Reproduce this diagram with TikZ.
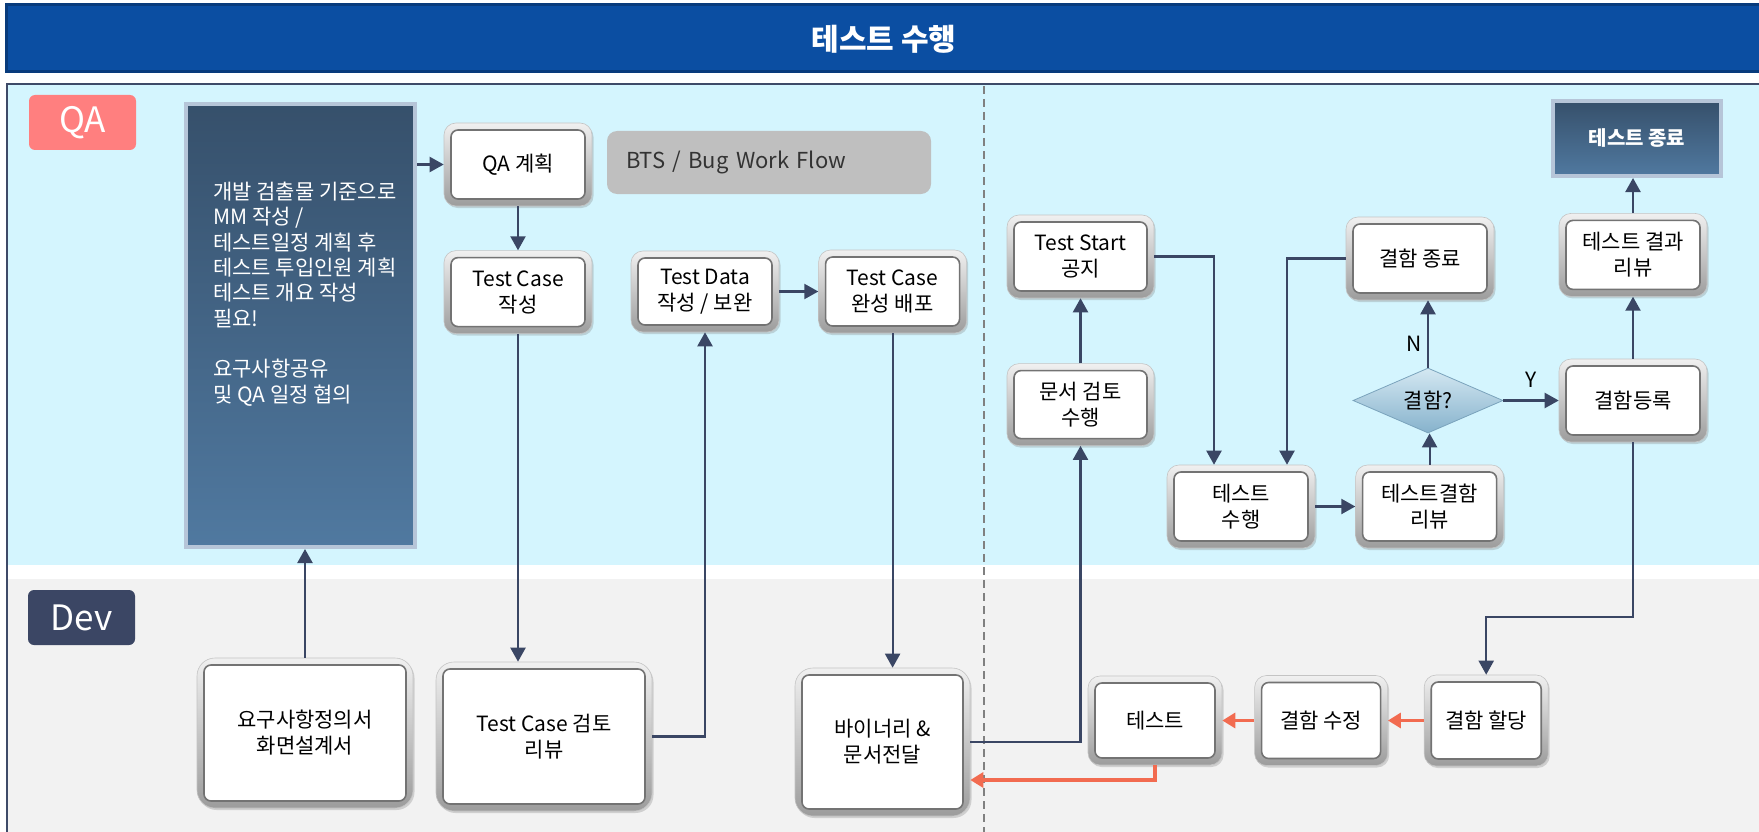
\documentclass[tikz,border=0pt]{standalone}
\usepackage{fontspec}
\setmainfont{Noto Sans CJK KR}
\usepackage{tikz}
\usetikzlibrary{arrows.meta,positioning,shapes.geometric,shadows}
\definecolor{colTitle}     {HTML}{0B4EA2}
\definecolor{colTitleEdge} {HTML}{083B7C}
\definecolor{colQaLane}    {HTML}{D4F5FE}
\definecolor{colDevLane}   {HTML}{F2F2F2}
\definecolor{colFrame}     {HTML}{3E4A68}
\definecolor{colDash}      {HTML}{808080}
\definecolor{colQaTag}     {HTML}{FF7F7F}
\definecolor{colDevTag}    {HTML}{3B4664}
\definecolor{colNavyTop}   {HTML}{36506B}
\definecolor{colNavyBot}   {HTML}{5079A0}
\definecolor{colNavyEdge}  {HTML}{B6C5D8}
\definecolor{colBts}       {HTML}{BFBFBF}
\definecolor{colBtsText}   {HTML}{333333}
\definecolor{colBevelTop}  {HTML}{F0F0F0}
\definecolor{colBevelBot}  {HTML}{9C9C9C}
\definecolor{colBevelEdge} {HTML}{C4C4C4}
\definecolor{colBevelDark} {HTML}{737373}
\definecolor{colDiaTop}    {HTML}{D4E8F2}
\definecolor{colDiaBot}    {HTML}{86B2CC}
\definecolor{colDiaEdge}   {HTML}{7AA3BC}
\definecolor{colArrow}     {HTML}{3A4664}
\definecolor{colFix}       {HTML}{F26B50}
\tikzset{
  bsize/.style 2 args={minimum width=#1, minimum height=#2},
  block/.style={
    top color=colBevelTop, bottom color=colBevelBot,
    draw=colBevelEdge, line width=0.6pt,
    rounded corners=12pt, inner sep=0pt, align=center,
    minimum width=148pt, minimum height=83pt,
    font=\fontsize{21}{26}\selectfont,
    drop shadow={shadow xshift=1.5pt, shadow yshift=-2pt, opacity=.3},
    path picture={
      \draw[colBevelDark, fill=white, line width=1.6pt, rounded corners=7pt]
        ([shift={(7pt,-7pt)}]path picture bounding box.north west) rectangle
        ([shift={(-7pt,7pt)}]path picture bounding box.south east);
    }
  },
  bigblock/.style={block, rounded corners=18pt},
  navybox/.style={
    draw=colNavyEdge, line width=4pt,
    top color=colNavyTop, bottom color=colNavyBot,
    inner sep=0pt, text=white
  },
  tag/.style={
    rounded corners=6pt, inner sep=0pt,
    minimum width=107pt, minimum height=55pt,
    text=white, font=\fontsize{35}{35}\selectfont
  },
  btsbox/.style={
    fill=colBts, rounded corners=10pt, inner sep=0pt,
    minimum width=324pt, minimum height=63pt,
    text width=286pt, align=left, text=colBtsText,
    font=\fontsize{22}{22}\selectfont
  },
  decision/.style={
    diamond, aspect=2.3, inner sep=0pt,
    minimum width=150pt, minimum height=65pt,
    draw=colDiaEdge, line width=0.8pt,
    top color=colDiaTop, bottom color=colDiaBot,
    font=\fontsize{21}{24}\selectfont
  },
  lbl/.style={inner sep=0pt, font=\fontsize{21}{21}\selectfont},
  mainarr/.style={
    -{Triangle[length=14pt,width=15pt]},
    line width=2.2pt, draw=colArrow
  },
  fixarr/.style={
    -{Triangle[length=13pt,width=15pt]},
    line width=3.5pt, draw=colFix
  }
}

\begin{document}
\begin{tikzpicture}[x=1pt, y=-1pt]
  \useasboundingbox (0,0) rectangle (1759,832);
  \fill[colQaLane] (7,84) rectangle (1759,565);
  \fill[colDevLane] (7,579) rectangle (1759,832);
  \draw[colDash, line width=1.2pt, dash pattern=on 8pt off 5pt] (984,86) -- (984,832);
  \draw[colFrame, line width=2.2pt] (1770,84) -- (7,84) -- (7,840);
  \draw[colTitleEdge, line width=3pt, fill=colTitle] (6,5) rectangle (1775,72);
  \node[text=white, font=\bfseries\fontsize{30}{30}\selectfont] (title) at (884,39) {테스트 수행};

  \node[tag, fill=colQaTag] (qa) at (82.5,122.5) {QA};
  \node[tag, fill=colDevTag] (dev) at (81.5,617.5) {Dev};

  \node[navybox, bsize={229pt}{443pt}] (plan) at (300.5,325.5) {};
  \node[anchor=north west, inner sep=0pt, align=left, text=white,
        font=\fontsize{21}{25.3}\selectfont] (plantext) at (213,182)
    {개발 검출물 기준으로\\MM 작성 /\\테스트일정 계획 후\\테스트 투입인원 계획\\테스트 개요 작성\\필요!\\[25.3pt]요구사항공유\\및 QA 일정 협의};

  \node[block] (qaplan) at (518,164.5) {QA 계획};
  \node[block, below=44pt of qaplan] (tcwrite) {Test Case\\작성};
  \node[block, bsize={148pt}{81pt}] (tdata) at (705,291.5) {Test Data\\작성 / 보완};
  \node[block, right=39pt of tdata] (tcdeploy) {Test Case\\완성 배포};
  \node[btsbox] (bts) at (769,162.5) {BTS / Bug Work Flow};

  \node[block, bsize={147pt}{83pt}] (teststart) at (1080.5,256.5) {Test Start\\공지};
  \node[block, bsize={147pt}{82pt}, below=65pt of teststart] (docreview) {문서 검토\\수행};
  \node[block] (defectclose) at (1420,258.5) {결함 종료};
  \node[decision] (chk) at (1428,400.5) {결함?};
  \node[block] (register) at (1633,400.5) {결함등록};
  \node[block, above=62pt of register] (resultreview) {테스트 결과\\리뷰};
  \node[navybox, bsize={168pt}{75pt}, font=\bfseries\fontsize{20}{24}\selectfont] (testend) at (1637,138.5) {테스트 종료};
  \node[block] (testrun) at (1241,506.5) {테스트\\수행};
  \node[block, right=40pt of testrun] (defectreview) {테스트결함\\리뷰};

  \node[bigblock, bsize={216pt}{150pt}] (req) at (305,733) {요구사항정의서\\화면설계서};
  \node[bigblock, bsize={216pt}{149pt}] (tcreview) at (544,736.5) {Test Case 검토\\리뷰};
  \node[bigblock, bsize={175pt}{148pt}] (binary) at (882.5,742) {바이너리 \&\\문서전달};
  \node[block, bsize={134pt}{89pt}] (devtest) at (1155,720.5) {테스트};
  \node[block, bsize={133pt}{90pt}, right=32pt of devtest] (fix) {결함 수정};
  \node[block, bsize={124pt}{91pt}, right=36pt of fix] (assign) {결함 할당};

  \coordinate (asgbend) at (1633,617);
  \draw[mainarr] (plan.east |- qaplan) -- (qaplan.west);
  \draw[mainarr] (qaplan) -- (tcwrite);
  \draw[mainarr] (tcwrite.south) -- (tcwrite.south |- tcreview.north);
  \draw[mainarr] (tcreview.east) -| (tdata.south);
  \draw[mainarr] (tdata) -- (tcdeploy);
  \draw[mainarr] (tcdeploy.south) -- (tcdeploy.south |- binary.north);
  \draw[mainarr] (req.north) -- (req.north |- plan.south);
  \draw[mainarr] (binary.east) -| (docreview.south);
  \draw[mainarr] (docreview) -- (teststart);
  \draw[mainarr] (teststart.east) -| ([xshift=-27pt]testrun.north);
  \draw[mainarr] (defectclose.west) -| ([xshift=46pt]testrun.north);
  \draw[mainarr] (testrun) -- (defectreview);
  \draw[mainarr] (defectreview.north) -- (defectreview.north |- chk.south);
  \draw[mainarr] (chk.north) -- node[lbl, left=5pt, pos=.35] {N} (chk.north |- defectclose.south);
  \draw[mainarr] (chk) -- node[lbl, above=12pt] {Y} (register);
  \draw[mainarr] (register) -- (resultreview);
  \draw[mainarr] (resultreview.north) -- (resultreview.north |- testend.south);
  \draw[mainarr] (register.south) -- (register.south |- asgbend) -| (assign.north);
  \draw[fixarr] (assign.west) -- (assign.west -| fix.east);
  \draw[fixarr] (fix.west) -- (fix.west -| devtest.east);
  \draw[fixarr] (devtest.south) |- ([yshift=-38pt]binary.east);
\end{tikzpicture}
\end{document}
